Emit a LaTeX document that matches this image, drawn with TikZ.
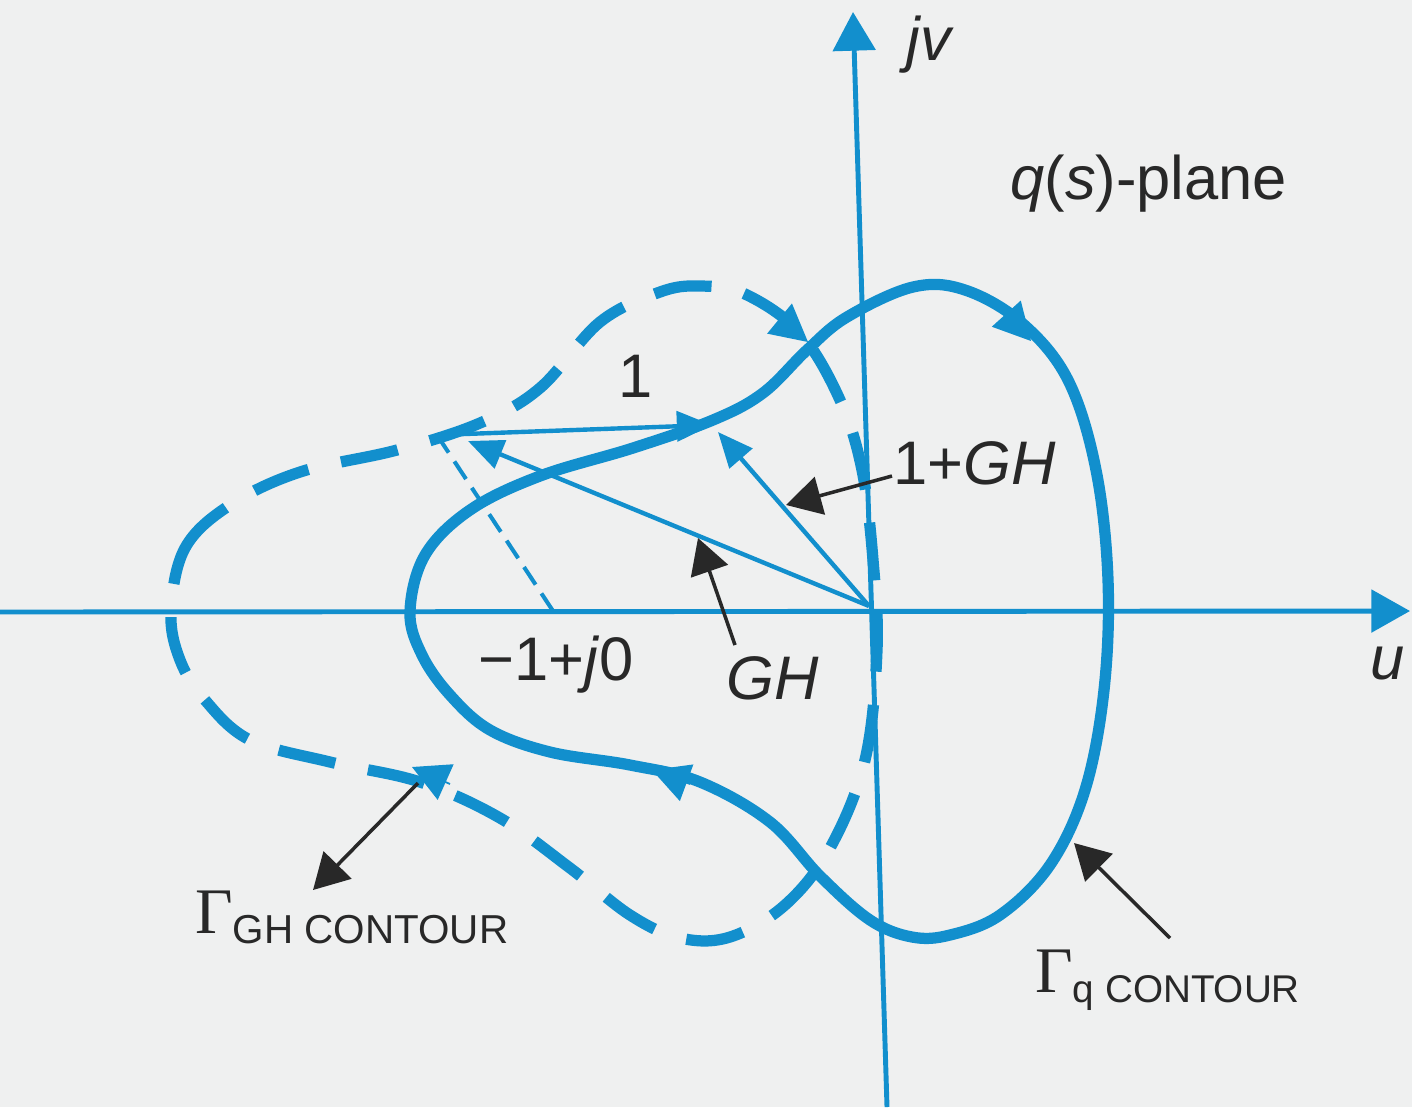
\documentclass[tikz,border=0pt]{standalone}
\usepackage{fontspec}
\setmainfont{Liberation Sans}
\newfontfamily\gammafont{Liberation Serif}
\usetikzlibrary{arrows.meta}
\definecolor{ink}{RGB}{18,143,205}
\definecolor{txt}{RGB}{40,40,40}
\definecolor{paper}{RGB}{239,240,240}
\begin{document}
\begin{tikzpicture}[x=0.02cm,y=-0.02cm,
  axis/.style={draw=ink, line width=2.8pt},
  axtip/.style={-{Triangle[length=22pt,width=24pt]}},
  contour/.style={draw=ink, line width=6.4pt},
  ghdash/.style={dash pattern=on 33pt off 19pt},
  vec/.style={draw=ink, line width=2.5pt, -{Triangle[length=20pt,width=17pt]}},
  thindash/.style={draw=ink, line width=2.3pt, dash pattern=on 12pt off 6pt},
  ctip/.style={draw=ink, line width=1pt, -{Triangle[length=21pt,width=22pt]}},
  pointer/.style={draw=txt, line width=2pt, -{Triangle[length=20pt,width=22pt]}},
  lbl/.style={text=txt, inner sep=0pt, font=\fontsize{35}{42}\selectfont},
  sublbl/.style={text=txt, inner sep=0pt},
]
\fill[paper] (0,0) rectangle (1412,1107);
\path[use as bounding box] (0,0) rectangle (1412,1107);

% axes
\coordinate (vb) at (887,1107);
\coordinate (vt) at (853,12);
\coordinate (hl) at (0,612);
\coordinate (hr) at (1410,611);
\draw[axis,axtip] (vb) -- (vt);
\draw[axis,axtip] (hl) -- (hr);

% Gamma_GH contour (dashed)
\draw[contour,ghdash] plot[smooth cycle, tension=0.6] coordinates {
 (171,612) (185,548) (230,505) (300,472) (397,450) (480,423) (540,388)
 (600,322) (660,292) (700,286) (745,294) (800,333) (840,400) (862,470)
 (873,560) (877,650) (865,760) (830,848) (785,905) (730,937) (680,938)
 (630,915) (570,868) (500,818) (420,782) (330,762) (250,740) (205,700)
 (180,660)};

% Gamma_q contour (solid)
\draw[contour] plot[smooth cycle, tension=0.6] coordinates {
 (410,612) (425,555) (470,510) (540,476) (633,448) (713,420) (763,393)
 (807,350) (847,317) (913,287) (965,290) (1022,323)
 (1068,380) (1096,470) (1108,580) (1104,690) (1085,790) (1050,865)
 (1000,915) (950,935) (912,937) (870,920) (820,876) (770,822) (700,782)
 (630,765) (550,752) (490,730) (450,695) (422,655)};

% arrowheads on contours
\coordinate (c1a) at (774,314); \coordinate (c1b) at (808,342);
\coordinate (c2a) at (1003,310); \coordinate (c2b) at (1031,341);
\coordinate (c3a) at (690,784); \coordinate (c3b) at (652,770);
\coordinate (c4a) at (450,784); \coordinate (c4b) at (412,767);
\draw[ctip] (c1a) -- (c1b);
\draw[ctip] (c2a) -- (c2b);
\draw[ctip] (c3a) -- (c3b);
\draw[ctip] (c4a) -- (c4b);

% vectors
\coordinate (O) at (869,606);
\coordinate (P) at (437,435);
\coordinate (Q1) at (712,425);
\coordinate (G) at (468,441);
\coordinate (Q2) at (718,432);
\coordinate (M) at (553,611);
\draw[thindash] (P) -- (M);
\draw[vec] (P) -- (Q1);
\draw[vec] (O) -- (G);
\draw[vec] (O) -- (Q2);

% labels
\node[lbl, anchor=base west] (ljv) at (906,60) {\textit{jv}};
\node[lbl, anchor=base west] (lplane) at (1010,199) {\textit{q}(\textit{s})-plane};
\node[lbl, anchor=base] (lone) at (636,397) {1};
\node[lbl, anchor=base west] (l1gh) at (893,484) {1+\textit{GH}};
\node[lbl, anchor=base west] (lm1) at (478,680) {−1+\textit{j}0};
\node[lbl, anchor=base west] (lgh) at (726,699) {\textit{GH}};
\node[lbl, anchor=base west] (lu) at (1370,679) {\textit{u}};
\node[sublbl, anchor=base west] (lgGH) at (195,933)
  {{\fontsize{37}{40}\selectfont\gammafont Γ}\raisebox{-6pt}{\fontsize{23}{26}\selectfont GH CONTOUR}};
\node[sublbl, anchor=base west] (lgq) at (1035,992)
  {{\fontsize{37}{40}\selectfont\gammafont Γ}\raisebox{-6pt}{\fontsize{22}{26}\selectfont q CONTOUR}};

% pointer arrows
\coordinate (a1s) at (892,476); \coordinate (a1e) at (786,505);
\coordinate (a2s) at (735,645); \coordinate (a2e) at (698,538);
\coordinate (a3s) at (418,783); \coordinate (a3e) at (313,890);
\coordinate (a4s) at (1170,938); \coordinate (a4e) at (1074,843);
\draw[pointer] (a1s) -- (a1e);
\draw[pointer] (a2s) -- (a2e);
\draw[pointer] (a3s) -- (a3e);
\draw[pointer] (a4s) -- (a4e);
\end{tikzpicture}
\end{document}
